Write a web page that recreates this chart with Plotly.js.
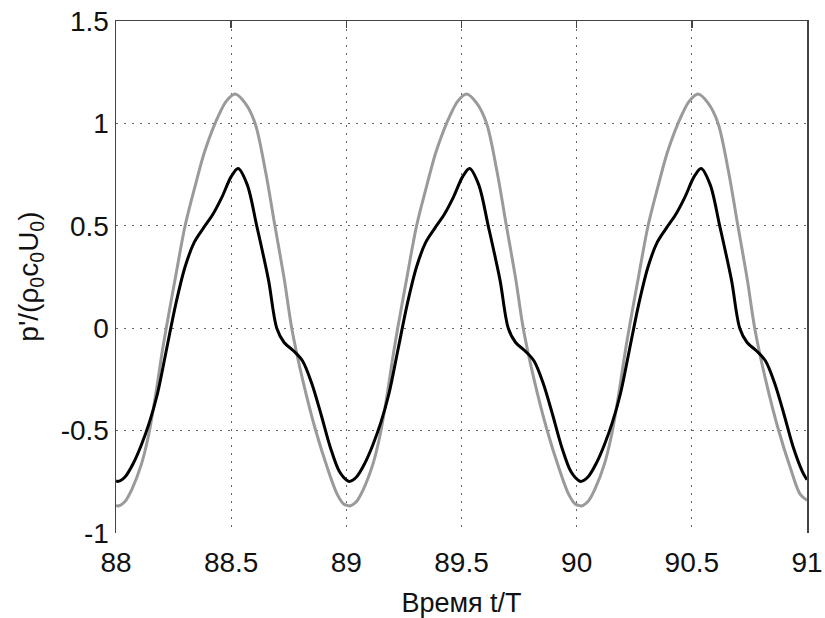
<!DOCTYPE html>
<html>
<head>
<meta charset="utf-8">
<script src="https://cdn.plot.ly/plotly-3.0.1.min.js"></script>
<style>html,body{margin:0;padding:0;background:#fff;}#chart{width:825px;height:618px;}</style>
</head>
<body>
<div id="chart"></div>
<script>
// Black curve: time t/T and p'/(rho0 c0 U0)
const timeBlack = [
  88.000,88.010,88.040,88.075,88.110,88.145,88.180,88.220,88.260,88.300,88.340,88.380,88.420,88.460,88.500,88.530,88.570,88.611,88.662,88.698,88.730,88.770,88.810,88.850,88.890,88.930,88.970,
  89.005,89.015,89.045,89.080,89.115,89.150,89.185,89.225,89.265,89.305,89.345,89.385,89.425,89.465,89.505,89.535,89.575,89.616,89.667,89.703,89.735,89.775,89.815,89.855,89.895,89.935,89.975,
  90.010,90.020,90.050,90.085,90.120,90.155,90.190,90.230,90.270,90.310,90.350,90.390,90.430,90.470,90.510,90.540,90.580,90.621,90.672,90.708,90.740,90.780,90.820,90.860,90.900,90.940,90.980,91.000
];
const pBlack = [
  -0.745,-0.748,-0.725,-0.660,-0.570,-0.460,-0.320,-0.100,0.120,0.300,0.420,0.490,0.555,0.640,0.740,0.780,0.700,0.500,0.236,0.000,-0.070,-0.110,-0.160,-0.270,-0.420,-0.580,-0.700,
  -0.745,-0.748,-0.725,-0.660,-0.570,-0.460,-0.320,-0.100,0.120,0.300,0.420,0.490,0.555,0.640,0.740,0.780,0.700,0.500,0.236,0.000,-0.070,-0.110,-0.160,-0.270,-0.420,-0.580,-0.700,
  -0.745,-0.748,-0.725,-0.660,-0.570,-0.460,-0.320,-0.100,0.120,0.300,0.420,0.490,0.555,0.640,0.740,0.780,0.700,0.500,0.236,0.000,-0.070,-0.110,-0.160,-0.270,-0.420,-0.580,-0.700,-0.740
];
// Gray curve
const timeGray = [
  88.000,88.010,88.040,88.068,88.110,88.140,88.170,88.200,88.218,88.260,88.300,88.345,88.387,88.450,88.480,88.517,88.560,88.604,88.650,88.690,88.731,88.763,88.810,88.866,88.920,88.960,88.990,
  89.005,89.015,89.045,89.073,89.115,89.145,89.175,89.205,89.223,89.265,89.305,89.350,89.392,89.455,89.485,89.522,89.565,89.609,89.655,89.695,89.736,89.768,89.815,89.871,89.925,89.965,89.995,
  90.010,90.020,90.050,90.078,90.120,90.150,90.180,90.210,90.228,90.270,90.310,90.355,90.397,90.460,90.490,90.527,90.570,90.614,90.660,90.700,90.741,90.773,90.820,90.876,90.930,90.970,91.000
];
const pGray = [
  -0.865,-0.868,-0.845,-0.789,-0.665,-0.530,-0.340,-0.120,0.000,0.260,0.500,0.700,0.870,1.050,1.110,1.143,1.100,1.000,0.760,0.500,0.236,0.000,-0.250,-0.496,-0.690,-0.810,-0.860,
  -0.865,-0.868,-0.845,-0.789,-0.665,-0.530,-0.340,-0.120,0.000,0.260,0.500,0.700,0.870,1.050,1.110,1.143,1.100,1.000,0.760,0.500,0.236,0.000,-0.250,-0.496,-0.690,-0.810,-0.860,
  -0.865,-0.868,-0.845,-0.789,-0.665,-0.530,-0.340,-0.120,0.000,0.260,0.500,0.700,0.870,1.050,1.110,1.143,1.100,1.000,0.760,0.500,0.236,0.000,-0.250,-0.496,-0.690,-0.810,-0.840
];
const xTickVals = [88, 88.5, 89, 89.5, 90, 90.5, 91];
const xTickText = ["88", "88.5", "89", "89.5", "90", "90.5", "91"];
const yTickVals = [-1, -0.5, 0, 0.5, 1, 1.5];
const yTickText = ["-1", "-0.5", "0", "0.5", "1", "1.5"];
const xTopTicks = [88.5, 89, 89.5, 90, 90.5];

const FONT = "Liberation Sans, Arial, sans-serif";
const gridDash = "1.5px,6.5px";

const traces = [
  {x: timeGray, y: pGray, type: "scatter", mode: "lines",
   line: {color: "#9a9a9a", width: 3, shape: "spline", smoothing: 0.9}, hoverinfo: "skip"},
  {x: timeBlack, y: pBlack, type: "scatter", mode: "lines",
   line: {color: "#000000", width: 3, shape: "spline", smoothing: 0.9}, hoverinfo: "skip"},
  {x: [88, 91], y: [null, null], xaxis: "x2", yaxis: "y", type: "scatter", mode: "lines", hoverinfo: "skip"}
];

const layout = {
  width: 825, height: 618,
  margin: {l: 116, r: 18, t: 21, b: 85},
  paper_bgcolor: "#ffffff", plot_bgcolor: "#ffffff",
  showlegend: false,
  font: {family: FONT, size: 28, color: "#111111"},
  xaxis: {
    range: [88, 91], tickmode: "array", tickvals: xTickVals, ticktext: xTickText,
    showgrid: true, gridcolor: "#666666", gridwidth: 1, griddash: gridDash,
    zeroline: false, showline: false, ticks: "", ticklabelstandoff: 10,
    tickfont: {family: FONT, size: 28, color: "#111111"},
    title: {text: "Время t/T", font: {family: FONT, size: 27, color: "#111111"}}
  },
  xaxis2: {
    range: [88, 91], overlaying: "x", side: "top", matches: "x",
    tickmode: "array", tickvals: xTopTicks, showticklabels: false,
    ticks: "inside", ticklen: 7, tickwidth: 1.5, tickcolor: "#444444",
    showline: true, linecolor: "#444444", linewidth: 1.5,
    showgrid: false, zeroline: false
  },
  yaxis: {
    range: [-1, 1.5], tickmode: "array", tickvals: yTickVals, ticktext: yTickText,
    showgrid: true, gridcolor: "#666666", gridwidth: 1, griddash: gridDash,
    zeroline: false, showline: true, mirror: true, linecolor: "#444444", linewidth: 1.5,
    ticks: "", ticklabelstandoff: 0,
    tickfont: {family: FONT, size: 28, color: "#111111"}
  },
  annotations: [{
    text: "p'/(ρ<sub>0</sub>c<sub>0</sub>U<sub>0</sub>)",
    xref: "paper", yref: "paper", x: -0.125, y: 0.5,
    xanchor: "center", yanchor: "middle", textangle: -90, showarrow: false,
    font: {family: FONT, size: 28, color: "#111111"}
  }]
};

Plotly.newPlot("chart", traces, layout, {staticPlot: true, displayModeBar: false});
</script>
</body>
</html>
